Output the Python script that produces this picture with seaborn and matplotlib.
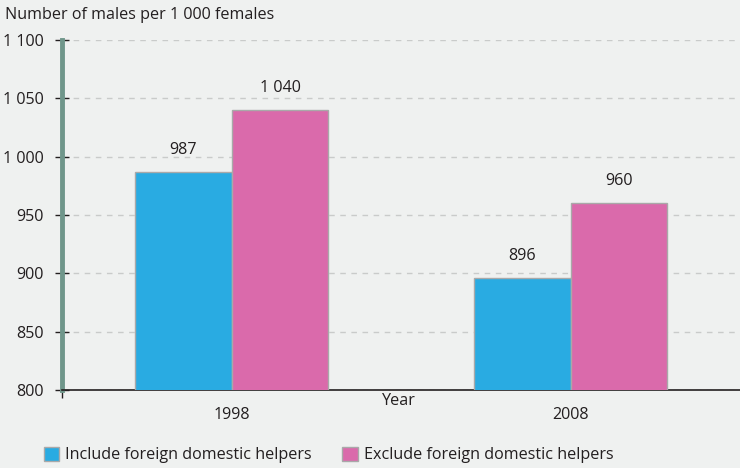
import pandas as pd
import matplotlib.pyplot as plt
import seaborn as sns

years = ["1998", "2008"]
include_fdh = [987, 896]
exclude_fdh = [1040, 960]
series_names = ["Include foreign domestic helpers", "Exclude foreign domestic helpers"]
yticks = [800, 850, 900, 950, 1000, 1050, 1100]

def spaced(v):
    return f"{v:,}".replace(",", " ")

df = pd.DataFrame({
    "Year": years * 2,
    "Value": include_fdh + exclude_fdh,
    "Series": [series_names[0]] * 2 + [series_names[1]] * 2,
})

sns.set_style("ticks")
plt.rcParams['font.family'] = ['Open Sans', 'DejaVu Sans']
fs = 11.6
ink = "#231f20"
bg = "#eff1f0"
fig = plt.figure(figsize=(7.4, 4.68), dpi=100, facecolor=bg)
ax = fig.add_axes([62/740, 78/468, 1 - 62/740, 350/468])
ax.set_facecolor(bg)

sns.barplot(data=df, x="Year", y="Value", hue="Series", hue_order=series_names,
            palette=["#29abe2", "#da6aab"], width=0.572, edgecolor="#a9a9a9",
            linewidth=1, saturation=1, ax=ax, zorder=3)

for cont, vals in zip(ax.containers, [include_fdh, exclude_fdh]):
    for bar, v in zip(cont, vals):
        ax.annotate(spaced(v), (bar.get_x() + bar.get_width()/2, bar.get_height()),
                    xytext=(0, 10), textcoords="offset points", ha="center", va="bottom",
                    fontsize=fs, color=ink)

ax.set_xlim(-0.5, 1.5)
ax.set_ylim(800, 1100)
ax.set_yticks(yticks)
ax.set_yticklabels([spaced(t) for t in yticks], fontsize=fs, color=ink)
ax.tick_params(axis="y", direction="inout", length=10, width=1, color=ink, pad=8)
ax.tick_params(axis="x", which="major", length=0, labelsize=fs, labelcolor=ink, pad=12)
ax.set_xticks([-0.5], minor=True)
ax.tick_params(axis="x", which="minor", direction="inout", length=12, width=1, color=ink)
ax.yaxis.grid(True, linestyle=(0, (4, 4)), color="#c9cbca", linewidth=1, zorder=0)
ax.set_axisbelow(True)

for s in ["top", "right"]:
    ax.spines[s].set_visible(False)
ax.spines["left"].set_color("#6f968a")
ax.spines["left"].set_linewidth(3.5)
ax.spines["bottom"].set_color(ink)
ax.spines["bottom"].set_linewidth(1.2)

ax.set_ylabel("")
ax.set_xlabel("")
fig.text(399/740, 1 - 401/468, "Year", fontsize=fs, color=ink, ha="center", va="center")
fig.text(5/740, 1 - 15/468, "Number of males per 1 000 females", fontsize=fs,
         color=ink, va="center", ha="left")

ax.get_legend().remove()
handles, labels = ax.get_legend_handles_labels()
fig.legend(handles, labels, loc="center left", bbox_to_anchor=(29/740, 1 - 455/468),
           ncol=2, frameon=False, fontsize=fs, handlelength=0.96, handleheight=1.0,
           columnspacing=1.9, handletextpad=0.38, labelcolor=ink)

fig.savefig("out.png", dpi=100, facecolor=bg)
